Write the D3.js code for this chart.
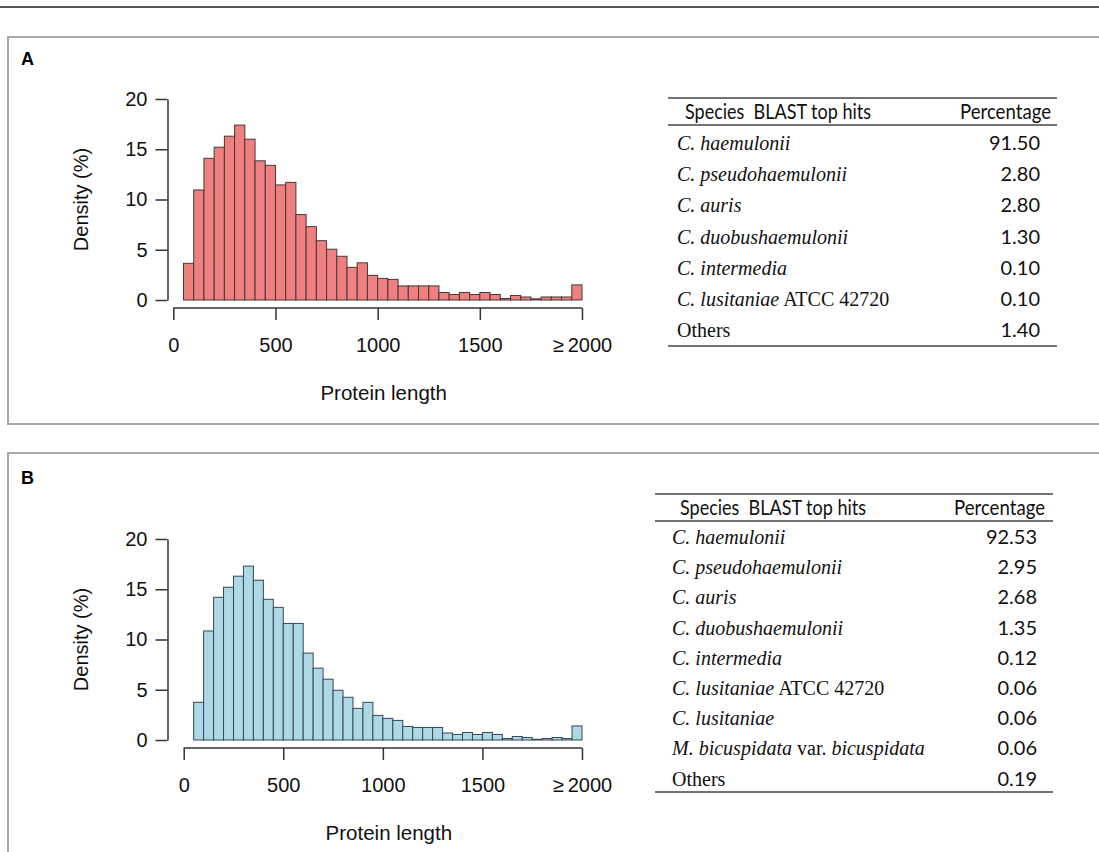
<!DOCTYPE html>
<html><head><meta charset="utf-8">
<script src="https://cdn.jsdelivr.net/npm/d3@7"></script>
<style>body{margin:0;background:#fff}svg{display:block}</style>
</head><body>
<svg id="c" width="1099" height="852"></svg>
<script>
// ---- data ----
const xTickValues = [0, 500, 1000, 1500, 2000];
const xTickLabels = ["0", "500", "1000", "1500", "\u2265\u20092000"];
const yTickValues = [0, 5, 10, 15, 20];
const binWidth = 50;
// Panel A: bins starting at 50 (50-100 ... 1950-2000, last = >=2000)
const binStartA = 50;
const densityA = [3.65, 10.95, 14.1, 15.2, 16.3, 17.4, 16.0, 13.85, 13.4, 11.45, 11.7, 8.5, 7.3, 5.9, 5.05, 4.35, 3.25, 3.7, 2.45, 2.15, 2.05, 1.4, 1.4, 1.4, 1.4, 0.75, 0.55, 0.75, 0.55, 0.75, 0.55, 0.15, 0.45, 0.3, 0.12, 0.3, 0.3, 0.3, 1.5];
// Panel B: bins starting at 0
const binStartB = 0;
const densityB = [0, 3.75, 10.85, 14.2, 15.2, 16.3, 17.3, 15.9, 14.0, 13.2, 11.6, 11.6, 8.65, 7.15, 6.05, 4.95, 4.25, 3.15, 3.75, 2.45, 2.15, 1.95, 1.35, 1.25, 1.25, 1.25, 0.7, 0.55, 0.75, 0.55, 0.75, 0.55, 0.15, 0.35, 0.25, 0.07, 0.15, 0.25, 0.15, 1.4];

const speciesA = ["C. haemulonii", "C. pseudohaemulonii", "C. auris", "C. duobushaemulonii", "C. intermedia", "C. lusitaniae ATCC 42720", "Others"];
const pctA = ["91.50", "2.80", "2.80", "1.30", "0.10", "0.10", "1.40"];
const speciesB = ["C. haemulonii", "C. pseudohaemulonii", "C. auris", "C. duobushaemulonii", "C. intermedia", "C. lusitaniae ATCC 42720", "C. lusitaniae", "M. bicuspidata var. bicuspidata", "Others"];
const pctB = ["92.53", "2.95", "2.68", "1.35", "0.12", "0.06", "0.06", "0.06", "0.19"];
const tableHeaders = ["Species  BLAST top hits", "Percentage"];

// ---- drawing ----
const svg = d3.select("#c");
const SANS = "'Liberation Sans', Arial, sans-serif";
const TSANS = "Lato, 'Open Sans', sans-serif";

svg.append("line").attr("x1", 0).attr("x2", 1099).attr("y1", 7).attr("y2", 7)
  .attr("stroke", "#555").attr("stroke-width", 2);

// panel boxes
svg.append("rect").attr("x", 8).attr("y", 37).attr("width", 1200).attr("height", 387)
  .attr("fill", "none").attr("stroke", "#a8a8a8").attr("stroke-width", 2);
svg.append("rect").attr("x", 8).attr("y", 453).attr("width", 1200).attr("height", 500)
  .attr("fill", "none").attr("stroke", "#a8a8a8").attr("stroke-width", 2);

svg.append("text").attr("x", 21).attr("y", 65).text("A")
  .attr("font-family", SANS).attr("font-weight", "bold").attr("font-size", 18);
svg.append("text").attr("x", 21).attr("y", 484).text("B")
  .attr("font-family", SANS).attr("font-weight", "bold").attr("font-size", 18);

function histogram(cfg) {
  const x = d3.scaleLinear().domain([0, 2000]).range([cfg.x0, cfg.x1]);
  const y = d3.scaleLinear().domain([0, 20]).range([cfg.yb, cfg.yt]);
  const g = svg.append("g");
  g.selectAll("rect.bar").data(cfg.values).join("rect")
    .attr("class", "bar")
    .attr("x", (d, i) => x(cfg.start + i * binWidth))
    .attr("width", (d, i) => x(cfg.start + (i + 1) * binWidth) - x(cfg.start + i * binWidth))
    .attr("y", d => y(d))
    .attr("height", d => y(0) - y(d))
    .attr("fill", cfg.fill).attr("stroke", cfg.stroke).attr("stroke-width", 1);

  // y axis
  const ya = g.append("g").attr("transform", `translate(${cfg.yAxisX},0)`)
    .call(d3.axisLeft(y).tickValues(yTickValues).tickSize(12).tickPadding(8).tickSizeOuter(0));
  ya.attr("font-size", 20).attr("font-family", SANS);
  ya.select(".domain").attr("stroke", "#333").attr("stroke-width", 1.5);
  ya.selectAll(".tick line").attr("stroke", "#333").attr("stroke-width", 1.5);
  ya.selectAll("text").attr("fill", "#111");

  // x axis
  const xa = g.append("g").attr("transform", `translate(0,${cfg.xAxisY})`)
    .call(d3.axisBottom(x).tickValues(xTickValues).tickFormat((d, i) => xTickLabels[i])
      .tickSize(12).tickPadding(18).tickSizeOuter(0));
  xa.attr("font-size", 20).attr("font-family", SANS);
  xa.select(".domain").attr("stroke", "#333").attr("stroke-width", 1.5);
  xa.selectAll(".tick line").attr("stroke", "#333").attr("stroke-width", 1.5);
  xa.selectAll("text").attr("fill", "#111");
  xa.selectAll(".domain").attr("d", `M${cfg.x0},0H${cfg.x1}`);

  g.append("text").attr("x", (cfg.x0 + cfg.x1) / 2 + 6).attr("y", cfg.xAxisY + 92)
    .attr("text-anchor", "middle").attr("font-family", SANS).attr("font-size", 20.5)
    .attr("fill", "#111").text("Protein length");
  g.append("text").attr("transform", `translate(${cfg.yLabelX},${(cfg.yb + cfg.yt) / 2}) rotate(-90)`)
    .attr("text-anchor", "middle").attr("font-family", SANS).attr("font-size", 20)
    .attr("fill", "#111").text("Density (%)");
}

histogram({ values: densityA, start: binStartA, x0: 173.3, x1: 582, yb: 300, yt: 99,
  yAxisX: 167.5, xAxisY: 308, yLabelX: 88, fill: "#F08080", stroke: "#473737" });
histogram({ values: densityB, start: binStartB, x0: 183.7, x1: 582, yb: 740, yt: 539,
  yAxisX: 167.5, xAxisY: 748, yLabelX: 88, fill: "#ADD8E6", stroke: "#384752" });

function table(cfg) {
  const g = svg.append("g");
  const rowY = d3.scaleLinear().domain([0, 1]).range([cfg.row0, cfg.row0 + cfg.step]);
  const line = (yy) => g.append("line").attr("x1", cfg.left).attr("x2", cfg.right)
    .attr("y1", yy).attr("y2", yy).attr("stroke", "#444").attr("stroke-width", 1.5);
  line(cfg.top); line(cfg.headLine); line(cfg.bottom);
  g.append("text").attr("x", cfg.labelX + 8).attr("y", cfg.headY).attr("dy", "0.35em")
    .attr("font-family", TSANS).attr("font-size", 21)
    .attr("textLength", 186).attr("lengthAdjust", "spacingAndGlyphs")
    .style("white-space", "pre")
    .attr("fill", "#111").text(tableHeaders[0]);
  g.append("text").attr("x", cfg.pctHeadX).attr("y", cfg.headY).attr("dy", "0.35em")
    .attr("text-anchor", "end")
    .attr("font-family", TSANS).attr("font-size", 21)
    .attr("textLength", 91).attr("lengthAdjust", "spacingAndGlyphs")
    .attr("fill", "#111").text(tableHeaders[1]);

  const rows = g.selectAll("g.row").data(cfg.species).join("g").attr("class", "row");
  rows.append("text").attr("x", cfg.labelX).attr("y", (d, i) => rowY(i)).attr("dy", "0.35em")
    .attr("font-family", "'Liberation Serif', 'Times New Roman', serif").attr("font-size", 20)
    .attr("fill", "#111")
    .each(function (d) {
      const t = d3.select(this);
      if (d === "Others") { t.append("tspan").text(d); return; }
      const parts = d.split(/( ATCC 42720| var\. )/);
      parts.forEach(p => {
        if (!p) return;
        const roman = p === " ATCC 42720" || p === " var. ";
        t.append("tspan").attr("font-style", roman ? "normal" : "italic")
          .style("white-space", "pre").text(p);
      });
    });
  rows.append("text").attr("x", cfg.pctX).attr("y", (d, i) => rowY(i)).attr("dy", "0.35em")
    .attr("text-anchor", "end").attr("font-family", TSANS)
    .attr("font-size", 20).attr("fill", "#111").text((d, i) => cfg.pct[i]);
}

table({ species: speciesA, pct: pctA, left: 668, right: 1057, top: 98, headLine: 125, bottom: 346,
  headY: 112, labelX: 677, pctHeadX: 1051, pctX: 1040, row0: 143, step: 31.2 });
table({ species: speciesB, pct: pctB, left: 655, right: 1053, top: 494, headLine: 521, bottom: 792,
  headY: 508, labelX: 672, pctHeadX: 1045, pctX: 1037, row0: 537, step: 30.2 });
</script>
</body></html>
